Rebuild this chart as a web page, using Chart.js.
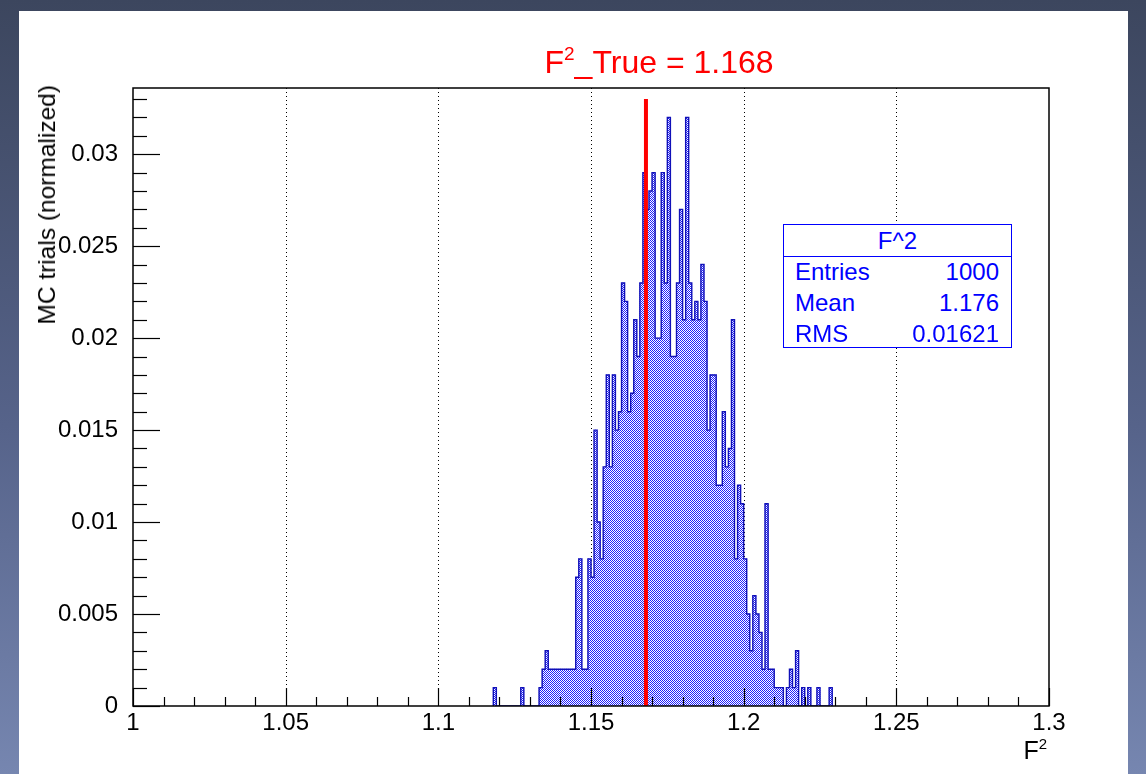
<!DOCTYPE html>
<html>
<head>
<meta charset="utf-8">
<script src="https://cdn.jsdelivr.net/npm/chart.js@4.4.1/dist/chart.umd.min.js"></script>
<style>
  html, body { margin:0; padding:0; width:1146px; height:774px; overflow:hidden; }
  body { position:relative; background:linear-gradient(to bottom, #3c465e 0%, #56638a 55%, #7686b0 100%); font-family:"Liberation Sans", Arial, sans-serif; }
  #panel { position:absolute; left:19px; top:11px; width:1109px; height:763px; background:#ffffff; }
  #wrap { position:absolute; left:0; top:0; width:1146px; height:774px; }
  #title { position:absolute; left:459px; width:400px; top:42px; text-align:center; color:#ff0000; font-size:32px; line-height:40px; white-space:nowrap; }
  #title sup { font-size:19px; vertical-align:0; position:relative; top:-13px; }
  #ytitle { position:absolute; left:47px; top:85px; transform-origin:0 0; transform:translate(-12px, 0) rotate(-90deg) translate(-100%, 0); font-size:24.5px; line-height:24px; white-space:nowrap; color:#000; }
  #xtitle { position:absolute; right:99px; top:735px; font-size:25px; line-height:30px; color:#000; }
  #xtitle sup { font-size:15px; vertical-align:0; position:relative; top:-10px; }
  #stats { position:absolute; left:783px; top:224px; width:229px; height:124px; border:1.5px solid #0000ff; background:#fff; color:#0000ff; font-size:24px; box-sizing:border-box; }
  #stats .hdr { height:31px; line-height:31px; text-align:center; border-bottom:1.5px solid #0000ff; }
  #stats .row { position:relative; height:31px; line-height:30px; }
  #stats .row .k { position:absolute; left:11px; }
  #stats .row .v { position:absolute; right:12px; }
</style>
</head>
<body>
<div id="panel"></div>
<div id="wrap"><canvas id="c" width="1146" height="774"></canvas></div>
<div id="title">F<sup>2</sup>_True = 1.168</div>
<div id="ytitle">MC trials (normalized)</div>
<div id="xtitle">F<sup>2</sup></div>
<div id="stats"></div>
<script>
// ---------------- data ----------------
const histStart = 1.118;      // lower edge of first listed bin
const binWidth = 0.001;
const histValues = [
  0.001, 0, 0, 0, 0, 0, 0, 0, 0, 0.001,             // 1.118 - 1.127
  0, 0, 0, 0, 0, 0.001, 0.002, 0.003, 0.002, 0.002, // 1.128 - 1.137
  0.002, 0.002, 0.002, 0.002, 0.002, 0.002, 0.002, 0.007, 0.008, 0.002, // 1.138 - 1.147
  0.002, 0.008, 0.007, 0.015, 0.010, 0.008, 0.013, 0.018, 0.013, 0.018, // 1.148 - 1.157
  0.015, 0.016, 0.023, 0.022, 0.016, 0.017, 0.021, 0.019, 0.023, 0.029, // 1.158 - 1.167
  0.027, 0.028, 0.029, 0.020, 0.020, 0.029, 0.023, 0.032, 0.019, 0.019, // 1.168 - 1.177
  0.023, 0.027, 0.021, 0.032, 0.023, 0.021, 0.022, 0.021, 0.024, 0.022, // 1.178 - 1.187
  0.015, 0.018, 0.018, 0.012, 0.012, 0.016, 0.013, 0.014, 0.021, 0.008, // 1.188 - 1.197
  0.012, 0.011, 0.008, 0.005, 0.003, 0.006, 0.005, 0.004, 0.002, 0.011, // 1.198 - 1.207
  0.002, 0.002, 0.001, 0.001, 0.001, 0, 0.001, 0.002, 0.001, 0.003,     // 1.208 - 1.217
  0, 0.001, 0, 0.001, 0, 0, 0.001, 0, 0, 0, 0.001                       // 1.218 - 1.228
];
const trueValue = 1.168;
const trueLineTop = 0.033;
const xRange = [1.0, 1.3];
const yRange = [0, 0.0336];
const xTickValues = [1.0, 1.05, 1.1, 1.15, 1.2, 1.25, 1.3];
const xTickLabels = ['1', '1.05', '1.1', '1.15', '1.2', '1.25', '1.3'];
const yTickValues = [0, 0.005, 0.01, 0.015, 0.02, 0.025, 0.03];
const yTickLabels = ['0', '0.005', '0.01', '0.015', '0.02', '0.025', '0.03'];
const xMinorStep = 0.01;
const yMinorStep = 0.001;
const statsTitle = 'F^2';
const statsNames = ['Entries', 'Mean', 'RMS'];
const statsValues = ['1000', '1.176', '0.01621'];

// ---------------- stats box ----------------
(function(){
  const box = document.getElementById('stats');
  const h = document.createElement('div'); h.className = 'hdr'; h.textContent = statsTitle; box.appendChild(h);
  statsNames.forEach((n, i) => {
    const r = document.createElement('div'); r.className = 'row';
    const k = document.createElement('span'); k.className = 'k'; k.textContent = n;
    const v = document.createElement('span'); v.className = 'v'; v.textContent = statsValues[i];
    r.appendChild(k); r.appendChild(v); box.appendChild(r);
  });
})();

// ---------------- chart ----------------
const canvas = document.getElementById('c');
const ctx0 = canvas.getContext('2d');
const pc = document.createElement('canvas'); pc.width = 2; pc.height = 2;
const pg = pc.getContext('2d');
pg.fillStyle = '#ffffff'; pg.fillRect(0, 0, 2, 2);
pg.fillStyle = '#1e1eff'; pg.fillRect(0, 0, 1, 1); pg.fillRect(1, 1, 1, 1);
const hatch = ctx0.createPattern(pc, 'repeat');

const barData = histValues
  .map((v, i) => ({ x: Number((histStart + (i + 0.5) * binWidth).toFixed(4)), y: v }))
  .filter(d => d.y > 0);

// histogram outline (step line through bin lower edges)
const outlineData = [{ x: histStart, y: 0 }]
  .concat(histValues.map((v, i) => ({ x: Number((histStart + i * binWidth).toFixed(4)), y: v })))
  .concat([{ x: Number((histStart + histValues.length * binWidth).toFixed(4)), y: 0 }]);

const rootAxes = {
  id: 'rootAxes',
  beforeDatasetsDraw(chart) {
    const { ctx, chartArea: a, scales: { x } } = chart;
    ctx.save();
    ctx.strokeStyle = '#000'; ctx.lineWidth = 1; ctx.setLineDash([1, 3]);
    xTickValues.slice(1, -1).forEach(v => {
      const px = Math.round(x.getPixelForValue(v)) + 0.5;
      ctx.beginPath(); ctx.moveTo(px, a.top); ctx.lineTo(px, a.bottom); ctx.stroke();
    });
    ctx.restore();
  },
  afterDatasetsDraw(chart) {
    const { ctx, chartArea: a, scales: { x, y } } = chart;
    ctx.save();
    ctx.strokeStyle = '#000'; ctx.lineWidth = 1.2; ctx.setLineDash([]);
    const nx = Math.round((xRange[1] - xRange[0]) / xMinorStep);
    for (let i = 0; i <= nx; i++) {
      const v = xRange[0] + i * xMinorStep;
      const px = Math.round(x.getPixelForValue(v)) + 0.5;
      const len = (i % 5 === 0) ? 18 : 9;
      ctx.beginPath(); ctx.moveTo(px, a.bottom); ctx.lineTo(px, a.bottom - len); ctx.stroke();
    }
    const ny = Math.floor(yRange[1] / yMinorStep + 1e-6);
    for (let i = 0; i <= ny; i++) {
      const v = yRange[0] + i * yMinorStep;
      const py = Math.round(y.getPixelForValue(v)) + 0.5;
      const len = (i % 5 === 0) ? 27 : 14;
      ctx.beginPath(); ctx.moveTo(a.left, py); ctx.lineTo(a.left + len, py); ctx.stroke();
    }
    ctx.lineWidth = 1.5;
    ctx.strokeRect(a.left, a.top, a.right - a.left, a.bottom - a.top);
    ctx.restore();
  }
};

new Chart(canvas, {
  type: 'bar',
  data: {
    datasets: [
      {
        type: 'line',
        label: 'true',
        data: [{ x: trueValue, y: 0 }, { x: trueValue, y: trueLineTop }],
        borderColor: '#ff0000',
        borderWidth: 4,
        pointRadius: 0,
        order: 0
      },
      {
        type: 'line',
        label: 'outline',
        data: outlineData,
        stepped: true,
        borderColor: '#1010b8',
        borderWidth: 1.4,
        pointRadius: 0,
        fill: false,
        order: 1
      },
      {
        type: 'bar',
        label: 'F^2',
        data: barData,
        backgroundColor: hatch,
        borderWidth: 0,
        barPercentage: 1.0,
        categoryPercentage: 1.0,
        order: 2
      }
    ]
  },
  options: {
    responsive: false,
    animation: false,
    devicePixelRatio: 1,
    layout: { padding: { left: 0, top: 88, right: 97, bottom: 0 } },
    plugins: { legend: { display: false }, tooltip: { enabled: false } },
    scales: {
      x: {
        type: 'linear',
        min: xRange[0], max: xRange[1],
        offset: false,
        grid: { display: false },
        border: { display: false },
        afterBuildTicks: s => { s.ticks = xTickValues.map(v => ({ value: v })); },
        afterFit: s => { s.height = 68; },
        ticks: {
          autoSkip: false, maxRotation: 0,
          padding: -5,
          color: '#000',
          font: { family: 'Liberation Sans', size: 24 },
          callback: (v, i) => xTickLabels[i]
        }
      },
      y: {
        type: 'linear',
        min: yRange[0], max: yRange[1],
        grid: { display: false },
        border: { display: false },
        afterBuildTicks: s => { s.ticks = yTickValues.map(v => ({ value: v })); },
        afterFit: s => { s.width = 133; },
        ticks: {
          autoSkip: false,
          padding: 7,
          color: '#000',
          font: { family: 'Liberation Sans', size: 24 },
          callback: (v, i) => yTickLabels[i]
        }
      }
    }
  },
  plugins: [rootAxes]
});
</script>
</body>
</html>
